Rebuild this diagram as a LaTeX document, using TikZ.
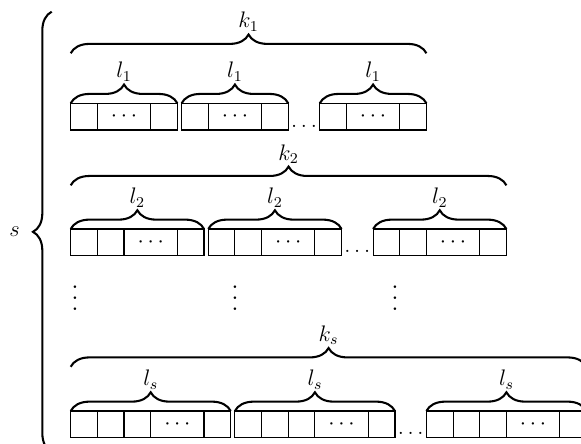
\documentclass[tikz,border=0pt]{standalone}
\usetikzlibrary{decorations.pathreplacing,calc}
\newcommand\cellw{14.23pt}
\newcommand\myvdots{\vbox{\Large\baselineskip=6pt\lineskiplimit=-10pt\hbox{.}\hbox{.}\hbox{.}}}
\begin{document}
\begin{tikzpicture}[x=0.5336pt, y=-0.5336pt, font=\large,
  blk/.style={draw, rectangle, line width=0.6pt, inner sep=0pt, outer sep=0pt, minimum height=\cellw, anchor=north west},
  divl/.style={line width=0.6pt},
  brc/.style={decorate, decoration={brace, amplitude=10pt}, line width=1.1pt},
  lab/.style={anchor=base, inner sep=0pt, yshift=13.5pt},
  hdots/.style={anchor=base, inner sep=0pt, yshift=1.5pt},
  cd/.style={inner sep=0pt},
  vd/.style={inner sep=0pt}]
\useasboundingbox (0,0) rectangle (581,443);
\clip (0,0) rectangle (581,443);

% ---------- row 1 ----------
\node[blk, minimum width=4*\cellw] (r1b1) at (70.7,103.3) {};
\node[blk, minimum width=4*\cellw] (r1b2) at ([xshift=2.25pt]r1b1.north east) {};
\node[blk, minimum width=4*\cellw] (r1b3) at ([xshift=16.8pt]r1b2.north east) {};
\foreach \b in {r1b1,r1b2,r1b3}{
  \foreach \i in {1,3}{
    \draw[divl] ([xshift=\i*\cellw]\b.north west) -- ([xshift=\i*\cellw]\b.south west);
  }
  \node[cd] (\b d) at ([xshift=2*\cellw, yshift=-0.5*\cellw]\b.north west) {$\cdots$};
  \draw[brc] (\b.north west) -- node[lab] (\b l) {$l_1$} (\b.north east);
}
\node[hdots] (r1dots) at ($(r1b2.south east)!0.5!(r1b3.south west)$) {$\ldots$};
\coordinate (k1a) at ([yshift=26.7pt]r1b1.north west);
\coordinate (k1b) at ([yshift=26.7pt]r1b3.north east);
\draw[brc] (k1a) -- node[lab] (k1) {$k_1$} (k1b);

% ---------- row 2 ----------
\node[blk, minimum width=5*\cellw] (r2b1) at (70.7,229) {};
\node[blk, minimum width=5*\cellw] (r2b2) at ([xshift=2.25pt]r2b1.north east) {};
\node[blk, minimum width=5*\cellw] (r2b3) at ([xshift=16.8pt]r2b2.north east) {};
\foreach \b in {r2b1,r2b2,r2b3}{
  \foreach \i in {1,2,4}{
    \draw[divl] ([xshift=\i*\cellw]\b.north west) -- ([xshift=\i*\cellw]\b.south west);
  }
  \node[cd] (\b d) at ([xshift=3*\cellw, yshift=-0.5*\cellw]\b.north west) {$\cdots$};
  \draw[brc] (\b.north west) -- node[lab] (\b l) {$l_2$} (\b.north east);
}
\node[hdots] (r2dots) at ($(r2b2.south east)!0.5!(r2b3.south west)$) {$\ldots$};
\coordinate (k2a) at ([yshift=23.3pt]r2b1.north west);
\coordinate (k2b) at ([yshift=23.3pt]r2b3.north east);
\draw[brc] (k2a) -- node[lab] (k2) {$k_2$} (k2b);

% ---------- vertical dots ----------
\node[vd] (v1) at (75,298) {\myvdots};
\node[vd] (v2) at (235,298) {\myvdots};
\node[vd] (v3) at (395,298) {\myvdots};

% ---------- row s ----------
\node[blk, minimum width=6*\cellw] (r3b1) at (70.7,411) {};
\node[blk, minimum width=6*\cellw] (r3b2) at ([xshift=2.25pt]r3b1.north east) {};
\node[blk, minimum width=6*\cellw] (r3b3) at ([xshift=16.8pt]r3b2.north east) {};
\foreach \b in {r3b1,r3b2,r3b3}{
  \foreach \i in {1,2,3,5}{
    \draw[divl] ([xshift=\i*\cellw]\b.north west) -- ([xshift=\i*\cellw]\b.south west);
  }
  \node[cd] (\b d) at ([xshift=4*\cellw, yshift=-0.5*\cellw]\b.north west) {$\cdots$};
  \draw[brc] (\b.north west) -- node[lab] (\b l) {$l_s$} (\b.north east);
}
\node[hdots] (r3dots) at ($(r3b2.south east)!0.5!(r3b3.south west)$) {$\ldots$};
\coordinate (ksa) at ([yshift=23.6pt]r3b1.north west);
\coordinate (ksb) at ([yshift=23.6pt]r3b3.north east);
\draw[brc] (ksa) -- node[lab] (ks) {$k_s$} (ksb);

% ---------- outer brace ----------
\coordinate (sb) at (51.7,452);
\coordinate (st) at (51.7,11.7);
\draw[brc] (sb) -- node[midway, anchor=east, inner sep=0pt, xshift=-16.5pt] (slab) {$s$} (st);
\end{tikzpicture}
\end{document}
